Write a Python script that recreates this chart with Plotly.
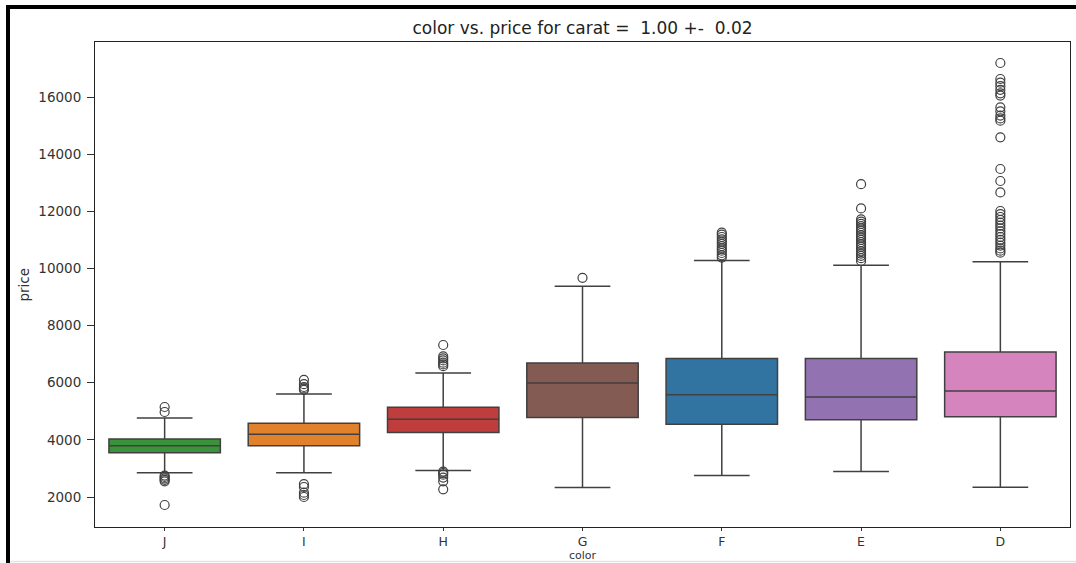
import plotly.graph_objects as go

# Diamond price distribution per colour grade (carat = 1.00 +- 0.02)
colors = ["J", "I", "H", "G", "F", "E", "D"]
q1 = [3550, 3790, 4255, 4785, 4550, 4700, 4805]
median = [3795, 4195, 4725, 5990, 5580, 5500, 5710]
q3 = [4030, 4580, 5145, 6690, 6850, 6850, 7075]
lower_whisker = [2850, 2850, 2925, 2330, 2750, 2890, 2340]
upper_whisker = [4765, 5605, 6340, 9380, 10280, 10115, 10235]

outliers = {
    "J": [5150, 4975, 2750, 2700, 2650, 2600, 2550, 1720],
    "I": [6100, 5950, 5850, 5800, 5750, 2450, 2350, 2150, 2070, 2000],
    "H": [7320, 6920, 6850, 6780, 6700, 6640, 6580,
          2890, 2840, 2780, 2680, 2550, 2270],
    "G": [9670],
    "F": [11250, 11180, 11100, 11020, 10940, 10860, 10780,
          10700, 10620, 10540, 10460, 10380],
    "E": [12950, 12100, 11720, 11640, 11560, 11480, 11400, 11320,
          11240, 11160, 11080, 11000, 10920, 10840, 10760, 10680,
          10600, 10520, 10440, 10360, 10260],
    "D": [17190, 16630, 16500, 16380, 16250, 16130, 16050, 15640,
          15500, 15350, 15250, 15170, 14590, 13480, 13060, 12660,
          12010, 11900, 11800, 11700, 11600, 11500, 11400, 11300,
          11200, 11100, 11000, 10900, 10800, 10700, 10620, 10550],
}

fill_colors = ["#3a923a", "#e1812c", "#c03d3e", "#845b53",
               "#3274a1", "#9372b2", "#d684bd"]
line_color = "#404040"

fig = go.Figure()

for i, c in enumerate(colors):
    fig.add_trace(go.Box(
        x=[c],
        q1=[q1[i]], median=[median[i]], q3=[q3[i]],
        lowerfence=[lower_whisker[i]], upperfence=[upper_whisker[i]],
        fillcolor=fill_colors[i],
        line=dict(color=line_color, width=1.5),
        width=0.8,
        whiskerwidth=0.5,
        boxpoints=False,
        showlegend=False,
        hoverinfo="skip",
    ))

for c in colors:
    ys = outliers[c]
    fig.add_trace(go.Scatter(
        x=[c] * len(ys), y=ys,
        mode="markers",
        marker=dict(symbol="circle-open", size=9,
                    color=line_color, line=dict(width=1.2, color=line_color)),
        showlegend=False,
        hoverinfo="skip",
    ))

font = "DejaVu Sans"
W, H = 1076, 563
L, R, T, B = 95, 6, 42, 36

def px_x(p):
    return (p - L) / (W - L - R)

def px_y(p):
    return (H - B - p) / (H - T - B)

shapes = [
    # dark frame on the left and top edges of the image
    dict(type="rect", xref="paper", yref="paper",
         x0=px_x(6), x1=px_x(10), y0=px_y(566), y1=px_y(5),
         fillcolor="black", line=dict(width=0), layer="above"),
    dict(type="rect", xref="paper", yref="paper",
         x0=px_x(6), x1=px_x(1080), y0=px_y(9), y1=px_y(5),
         fillcolor="black", line=dict(width=0), layer="above"),
    # faint line along the bottom edge
    dict(type="line", xref="paper", yref="paper",
         x0=px_x(10), x1=px_x(1080), y0=px_y(561.5), y1=px_y(561.5),
         line=dict(color="#e4e4e4", width=1.5), layer="above"),
]

annotations = [
    # axis titles, placed explicitly
    dict(text="color", xref="paper", yref="paper",
         x=0.5, y=px_y(563), xanchor="center", yanchor="bottom",
         borderpad=0,
         showarrow=False, font=dict(family=font, size=11, color="#333333")),
    dict(text="price", xref="paper", yref="paper",
         x=px_x(23), y=0.5, xanchor="center", yanchor="middle",
         textangle=-90, showarrow=False,
         font=dict(family=font, size=13.5, color="#333333")),
]

nb = "\u00a0"
title_text = f"color vs. price for carat ={nb}{nb}1.00 +-{nb}{nb}0.02"

fig.update_layout(
    width=W, height=H,
    margin=dict(l=L, r=R, t=T, b=B, autoexpand=False),
    paper_bgcolor="white",
    plot_bgcolor="white",
    boxmode="overlay",
    font=dict(family=font, size=13.5, color="#333333"),
    title=dict(text=title_text,
               x=0.5, xref="paper", xanchor="center",
               y=1 - 28 / H, yref="container", yanchor="middle",
               font=dict(family=font, size=17, color="#222222")),
    shapes=shapes,
    annotations=annotations,
    xaxis=dict(
        type="category",
        categoryorder="array", categoryarray=colors,
        range=[-0.5, 6.5],
        automargin=False,
        showgrid=False, zeroline=False,
        showline=True, mirror=True, linecolor="#222222", linewidth=1,
        ticks="outside", ticklen=3, tickcolor="#333333",
        tickfont=dict(family=font, size=12.5, color="#333333"),
    ),
    yaxis=dict(
        range=[950, 17925],
        automargin=False,
        tickvals=[2000, 4000, 6000, 8000, 10000, 12000, 14000, 16000],
        ticktext=["2000", "4000", "6000", "8000", "10000", "12000",
                  "14000", "16000"],
        showgrid=False, zeroline=False,
        showline=True, mirror=True, linecolor="#222222", linewidth=1,
        ticks="outside", ticklen=7, tickcolor="#333333",
        ticklabelstandoff=3,
        tickfont=dict(family=font, size=13.5, color="#333333"),
    ),
)

fig.write_html("out.html")
